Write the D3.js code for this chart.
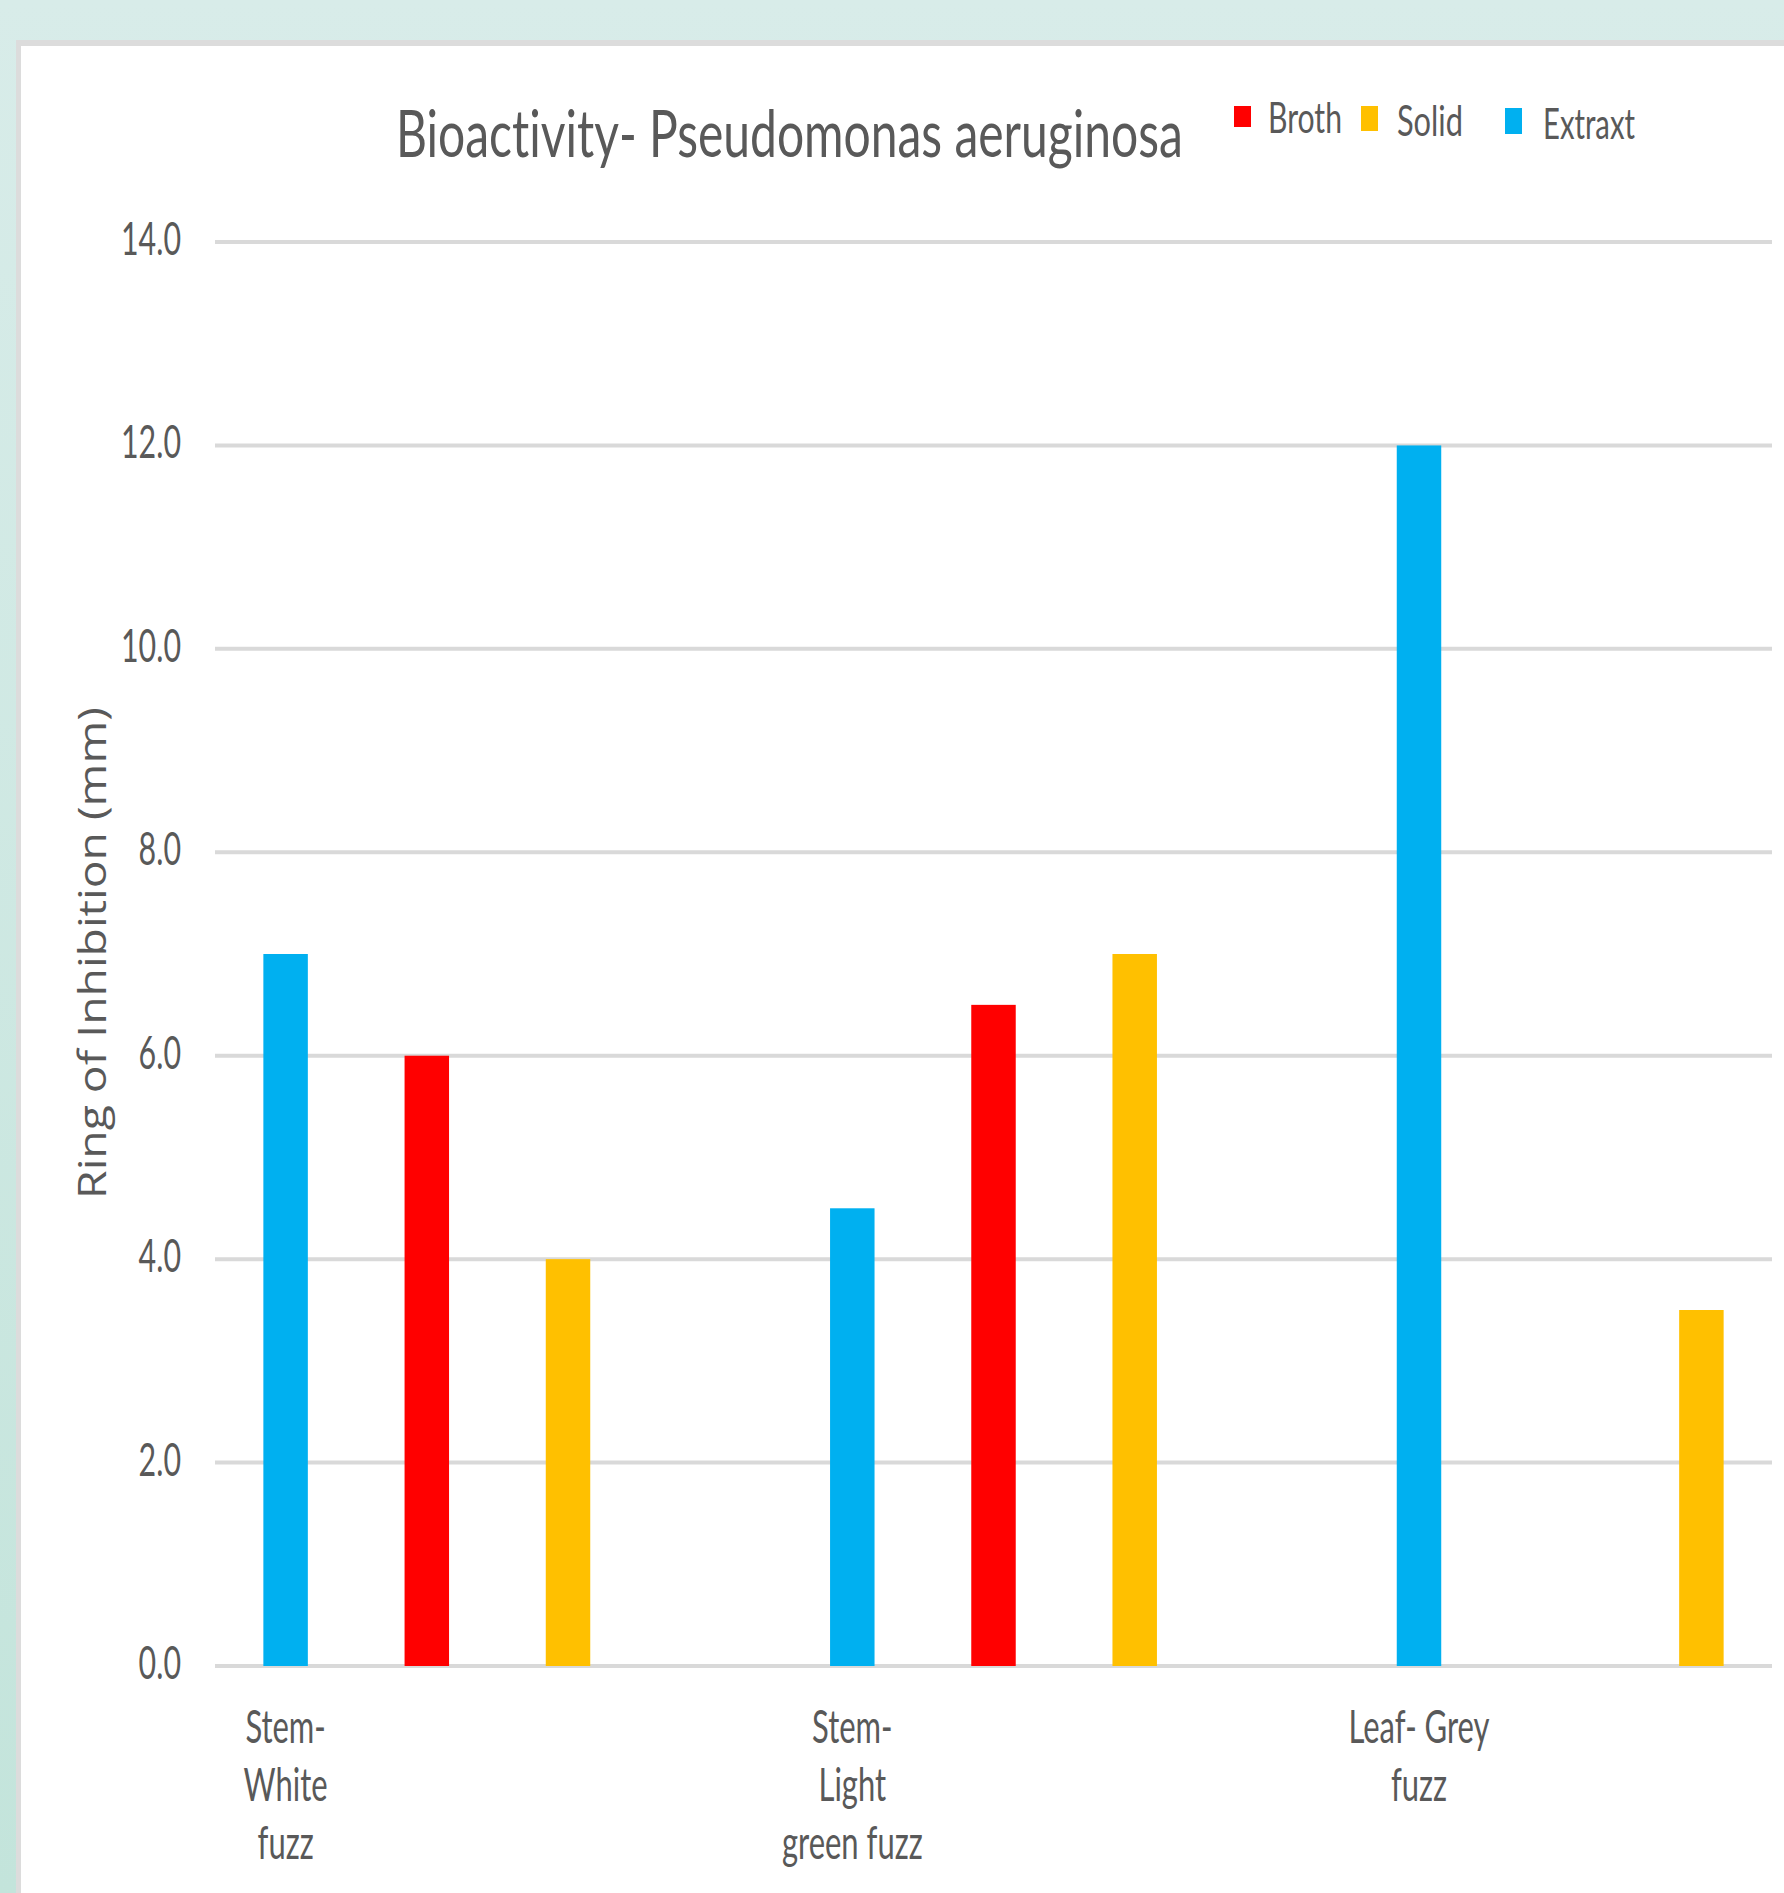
<!DOCTYPE html>
<html><head><meta charset="utf-8">
<script src="https://cdn.jsdelivr.net/npm/d3@7"></script>
<style>html,body{margin:0;padding:0;background:#fff}svg{display:block}text{font-variant-ligatures:none;font-feature-settings:"liga" 0}</style>
</head><body>
<svg id="c" width="1784" height="1893"></svg>
<script>
// ---------- data ----------
const categories = ["Stem- White fuzz", "Stem- Light green fuzz", "Leaf- Grey fuzz"];
const categoryLines = [["Stem-", "White", "fuzz"], ["Stem-", "Light", "green fuzz"], ["Leaf- Grey", "fuzz"]];
const seriesNames = ["Extraxt", "Broth", "Solid"];
const extraxtValues = [7.0, 4.5, 12.0];
const brothValues = [6.0, 6.5, 0];
const solidValues = [4.0, 7.0, 3.5];
const legendNames = ["Broth", "Solid", "Extraxt"];
const yTicks = [0, 2, 4, 6, 8, 10, 12, 14];
const chartTitle = "Bioactivity- Pseudomonas aeruginosa";
const yAxisTitle = "Ring of Inhibition (mm)";

// ---------- styles / layout ----------
const colors = {Extraxt: "#00b0f0", Broth: "#ff0000", Solid: "#ffc000"};
const textColor = "#595959";
const W = 1784, H = 1893;
const plot = {left: 215, right: 1772, top: 242, bottom: 1666};

const seriesValues = {Extraxt: extraxtValues, Broth: brothValues, Solid: solidValues};
const table = categories.map((c, i) => ({cat: c, lines: categoryLines[i],
  vals: seriesNames.map(s => ({series: s, value: seriesValues[s][i]}))}));

const svg = d3.select("#c");
const defs = svg.append("defs");
const grad = defs.append("linearGradient").attr("id", "bg").attr("x1", 0).attr("y1", 0).attr("x2", 0).attr("y2", 1);
grad.append("stop").attr("offset", 0).attr("stop-color", "#d8ece9");
grad.append("stop").attr("offset", 1).attr("stop-color", "#c3e4db");

svg.append("rect").attr("width", W).attr("height", H).attr("fill", "url(#bg)");
// panel border + white panel
svg.append("rect").attr("x", 16).attr("y", 40).attr("width", W - 16).attr("height", H - 40).attr("fill", "#dcdcdc");
svg.append("rect").attr("x", 21).attr("y", 46).attr("width", W - 21).attr("height", H - 46).attr("fill", "#ffffff");

// scales
const y = d3.scaleLinear().domain([0, 14]).range([plot.bottom, plot.top]);
const x0 = d3.scaleBand().domain(categories).range([plot.left, plot.right]).paddingInner(0.2525).paddingOuter(0);
const x1 = d3.scaleBand().domain(seriesNames).range([0, x0.bandwidth()]).paddingInner(0.685).paddingOuter(0.3425);

// gridlines
svg.append("g").selectAll("line").data(yTicks).join("line")
  .attr("x1", plot.left).attr("x2", plot.right)
  .attr("y1", d => y(d)).attr("y2", d => y(d))
  .attr("stroke", "#d9d9d9").attr("stroke-width", 4);

// bars
const groups = svg.append("g").selectAll("g").data(table).join("g")
  .attr("transform", d => `translate(${x0(d.cat)},0)`);
groups.selectAll("rect").data(d => d.vals.filter(v => v.value > 0)).join("rect")
  .attr("x", d => x1(d.series)).attr("width", x1.bandwidth())
  .attr("y", d => y(d.value)).attr("height", d => y(0) - y(d.value))
  .attr("fill", d => colors[d.series]);

// helper for condensed text fitting
function placeText(g, str, x, yb, size, family, anchor, targetW, sxFixed) {
  const t = g.append("text").text(str).attr("font-family", family).attr("font-size", size)
    .attr("fill", textColor).attr("text-anchor", anchor);
  const w = t.node().getComputedTextLength();
  const sx = sxFixed != null ? sxFixed : targetW / w;
  t.attr("transform", `translate(${x},${yb}) scale(${sx},1)`);
  return sx;
}

const LATO = "Lato, 'Open Sans', sans-serif";
// y tick labels
const tg = svg.append("g");
const probe = tg.append("text").text("14.0").attr("font-family", LATO).attr("font-size", 46);
const tickSx = 60 / probe.node().getComputedTextLength();
probe.remove();
yTicks.forEach(v => placeText(tg, d3.format(".1f")(v), 181, y(v) + 13, 46, LATO, "end", null, tickSx));

// x labels under first (Extraxt) bar
const xg = svg.append("g");
table.forEach(d => {
  const cx = x0(d.cat) + x1(seriesNames[0]) + x1.bandwidth() / 2;
  d.lines.forEach((ln, k) => placeText(xg, ln, cx, 1743 + k * 58, 46, LATO, "middle", null, tickSx * 1.02));
});

// title
placeText(svg, chartTitle, 396, 157, 66, LATO, "start", 787);

// legend
const legendLayout = [
  {sq: [1234, 106, 17, 21], tx: 1268, ty: 133, tw: 74},
  {sq: [1361, 106, 17, 25], tx: 1397, ty: 136, tw: 66},
  {sq: [1505, 108, 17, 26], tx: 1543, ty: 139, tw: 92}
];
legendNames.forEach((n, i) => {
  const L = legendLayout[i];
  svg.append("rect").attr("x", L.sq[0]).attr("y", L.sq[1]).attr("width", L.sq[2]).attr("height", L.sq[3]).attr("fill", colors[n]);
  placeText(svg, n, L.tx, L.ty, 43, LATO, "start", L.tw);
});

// y axis title (rotated)
const yt = svg.append("text").text(yAxisTitle).attr("font-family", "'Open Sans', sans-serif")
  .attr("font-size", 39).attr("fill", textColor).attr("text-anchor", "middle");
const ytw = yt.node().getComputedTextLength();
yt.attr("transform", `translate(106,953) rotate(-90) scale(${492 / ytw},1)`);
</script>
</body></html>
